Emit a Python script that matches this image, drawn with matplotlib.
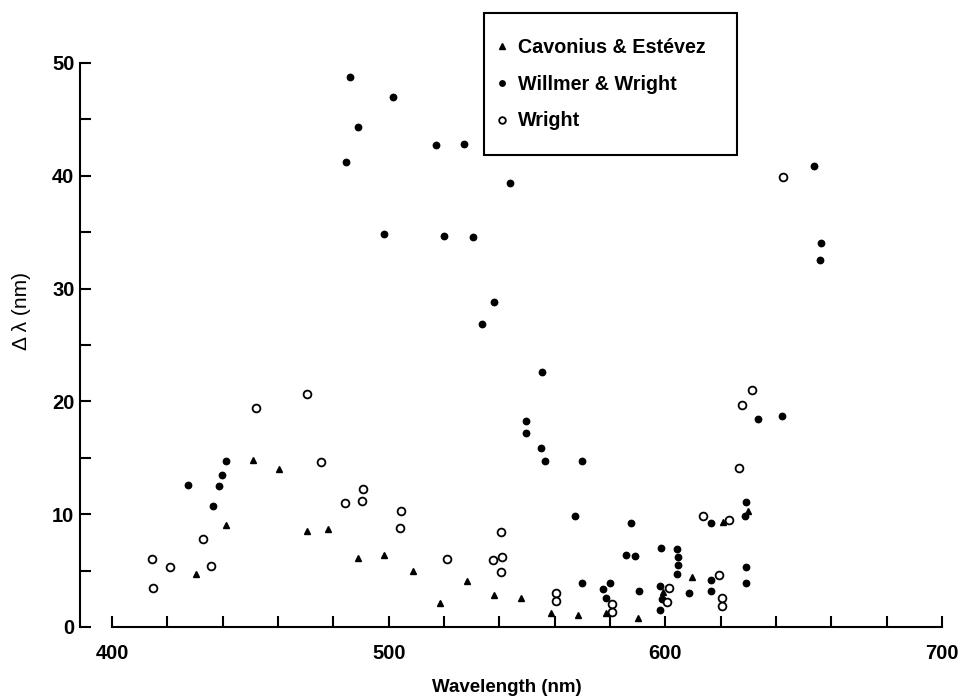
import matplotlib
matplotlib.use("Agg")
import matplotlib.pyplot as plt
from matplotlib.patches import Rectangle
from matplotlib.ticker import MultipleLocator, FixedLocator

plt.rcParams['font.family'] = ['Liberation Sans', 'DejaVu Sans']

# Cavonius & Estevez (triangles)
cav_x = [430.2, 441.1, 451.0, 460.2, 470.6, 478.1, 488.8, 498.4, 508.8, 518.4, 528.4,
         538.1, 547.7, 558.7, 568.3, 578.5, 590.2, 599.2, 609.5, 620.9, 630.0]
cav_y = [4.7, 9.0, 14.8, 14.0, 8.5, 8.7, 6.1, 6.4, 5.0, 2.1, 4.1,
         2.8, 2.6, 1.2, 1.1, 1.2, 0.8, 3.1, 4.4, 9.3, 10.3]

# Willmer & Wright (filled circles)
ww_x = [427.6, 436.5, 438.7, 439.6, 441.2, 484.5, 486.0, 488.9, 498.3, 501.7,
        517.2, 519.9, 527.4, 530.5, 533.8, 538.2, 543.8, 549.5, 549.7, 555.2,
        555.6, 556.4, 567.2, 569.9, 570.0, 577.6, 578.5, 580.0, 585.8, 587.6,
        589.0, 590.3, 597.9, 598.0, 598.5, 598.9, 604.1, 604.2, 604.4, 604.7,
        608.5, 616.4, 616.4, 616.4, 629.0, 628.9, 629.0, 629.1, 633.6, 642.3,
        653.8, 656.2, 655.9]
ww_y = [12.6, 10.7, 12.5, 13.5, 14.7, 41.2, 48.8, 44.3, 34.8, 47.0,
        42.7, 34.7, 42.8, 34.6, 26.9, 28.8, 39.4, 17.2, 18.3, 15.9,
        22.6, 14.7, 9.8, 14.7, 3.9, 3.4, 2.6, 3.9, 6.4, 9.2,
        6.3, 3.2, 1.5, 3.6, 7.0, 2.5, 4.7, 6.9, 6.2, 5.5,
        3.0, 9.2, 4.2, 3.2, 11.1, 9.8, 5.3, 3.9, 18.4, 18.7,
        40.9, 34.0, 32.5]

# Wright (open circles)
w_x = [414.6, 414.9, 421.0, 433.0, 435.8, 451.9, 470.4, 475.5, 484.3, 490.6, 490.5,
       504.4, 504.2, 521.0, 537.6, 540.9, 540.7, 540.5, 560.4, 560.4, 580.6, 580.6,
       601.3, 600.6, 613.5, 623.0, 619.3, 620.5, 620.5, 626.7, 627.6, 631.4, 642.6]
w_y = [6.0, 3.5, 5.3, 7.8, 5.4, 19.4, 20.7, 14.6, 11.0, 12.2, 11.2,
       10.3, 8.8, 6.0, 5.9, 6.2, 8.4, 4.9, 3.0, 2.3, 2.0, 1.3,
       3.5, 2.2, 9.8, 9.5, 4.6, 2.6, 1.9, 14.1, 19.7, 21.0, 39.9]

x_labels = [400, 500, 600, 700]

W, H = 960, 699
fig = plt.figure(figsize=(9.6, 6.99), dpi=100)
ax = fig.add_axes([80 / W, 72 / H, 862 / W, 564 / H])

ax.plot(cav_x, cav_y, '^', color='black', markersize=4.8, linestyle='none',
        clip_on=False, label='Cavonius & Estévez')
ax.plot(ww_x, ww_y, 'o', color='black', markersize=4.6, linestyle='none',
        clip_on=False, label='Willmer & Wright')
ax.plot(w_x, w_y, 'o', markerfacecolor='white', markeredgecolor='black',
        markeredgewidth=1.3, markersize=5.6, linestyle='none',
        clip_on=False, label='Wright')

ax.set_xlim(388.43, 700)
ax.set_ylim(0, 50)

for s in ['top', 'right']:
    ax.spines[s].set_visible(False)
ax.spines['left'].set_bounds(0, 50)
ax.spines['bottom'].set_bounds(400, 700)
ax.spines['left'].set_linewidth(1.5)
ax.spines['bottom'].set_linewidth(1.5)

ax.xaxis.set_major_locator(FixedLocator(x_labels))
ax.xaxis.set_minor_locator(MultipleLocator(20))
ax.yaxis.set_major_locator(MultipleLocator(10))
ax.yaxis.set_minor_locator(MultipleLocator(5))
ax.tick_params(which='both', direction='in', length=8, width=1.5)
ax.tick_params(axis='x', which='major', pad=12)
ax.tick_params(axis='y', which='major', pad=4)
for lab in ax.get_xticklabels() + ax.get_yticklabels():
    lab.set_fontsize(14.5)
    lab.set_fontweight('bold')

ax.set_xlabel('Wavelength (nm)', fontsize=13.5, fontweight='bold')
ax.xaxis.set_label_coords(0.495, -0.092)
ax.set_ylabel('Δ λ (nm)', fontsize=15)
ax.yaxis.set_label_coords(-0.057, 0.56)

# legend entries without frame, box drawn separately
leg = ax.legend(loc='upper left', bbox_to_anchor=(497 / W, 1 - 38 / H),
                bbox_transform=fig.transFigure, borderaxespad=0, borderpad=0,
                frameon=False, prop={'size': 14.2, 'weight': 'bold'},
                handlelength=0.5, handletextpad=0.55, labelspacing=0.9,
                markerscale=0.85)
fig.patches.append(Rectangle((484 / W, 1 - 155 / H), 253 / W, 142 / H,
                             transform=fig.transFigure, fill=False,
                             edgecolor='black', linewidth=1.5))

fig.savefig('out.png', dpi=100)
